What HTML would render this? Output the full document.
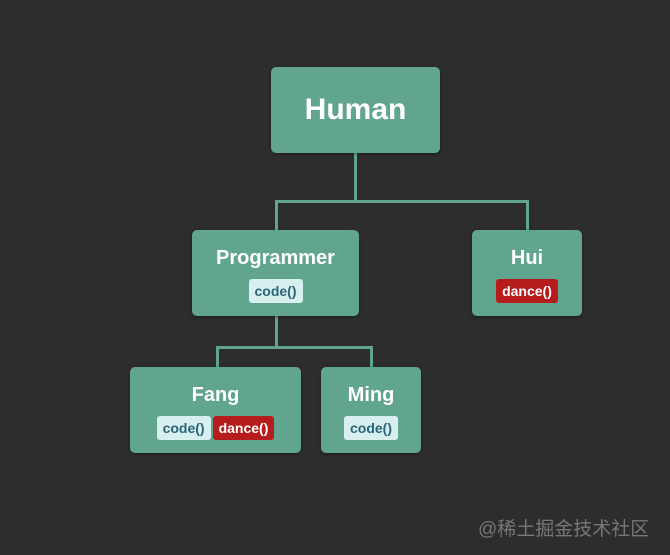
<!DOCTYPE html>
<html><head><style>
body{margin:0;width:670px;height:555px;background:#2d2d2d;position:relative;overflow:hidden;font-family:"Liberation Sans",sans-serif}
.n{position:absolute;background:#62a58e;border-radius:5px;color:#fff;font-weight:bold;text-align:center;box-shadow:0 1px 3px rgba(0,0,0,.4)}
.t{display:inline-block;font-size:14px;font-weight:bold;padding:4px 6px;border-radius:3px;line-height:16px;margin:0 1px}
.c{background:#d8eff0;color:#2a6478}
.d{background:#b71c1c;color:#fff}
.l{position:absolute;background:#62a58e}
</style></head><body>
<div class="l" style="left:354px;top:153px;width:3px;height:49px"></div>
<div class="l" style="left:275px;top:200px;width:254px;height:3px"></div>
<div class="l" style="left:275px;top:200px;width:3px;height:30px"></div>
<div class="l" style="left:526px;top:200px;width:3px;height:30px"></div>
<div class="l" style="left:275px;top:316px;width:3px;height:32px"></div>
<div class="l" style="left:216px;top:346px;width:157px;height:3px"></div>
<div class="l" style="left:216px;top:346px;width:3px;height:21px"></div>
<div class="l" style="left:370px;top:346px;width:3px;height:21px"></div>

<div class="n" style="left:271px;top:67px;width:169px;height:86px;font-size:30px;line-height:86px">Human</div>
<div class="n" style="left:192px;top:230px;width:167px;height:86px"><div style="font-size:20px;margin-top:16px;line-height:24px">Programmer</div><div style="margin-top:9px"><span class="t c">code()</span></div></div>
<div class="n" style="left:472px;top:230px;width:110px;height:86px"><div style="font-size:20px;margin-top:16px;line-height:24px">Hui</div><div style="margin-top:9px"><span class="t d">dance()</span></div></div>
<div class="n" style="left:130px;top:367px;width:171px;height:86px"><div style="font-size:20px;margin-top:16px;line-height:24px">Fang</div><div style="margin-top:9px"><span class="t c">code()</span><span class="t d">dance()</span></div></div>
<div class="n" style="left:321px;top:367px;width:100px;height:86px"><div style="font-size:20px;margin-top:16px;line-height:24px">Ming</div><div style="margin-top:9px"><span class="t c">code()</span></div></div>
<div style="position:absolute;left:478px;top:514px;font-size:19px;color:#777;font-family:'Liberation Sans','Noto Sans CJK SC',sans-serif">@稀土掘金技术社区</div>
</body></html>
